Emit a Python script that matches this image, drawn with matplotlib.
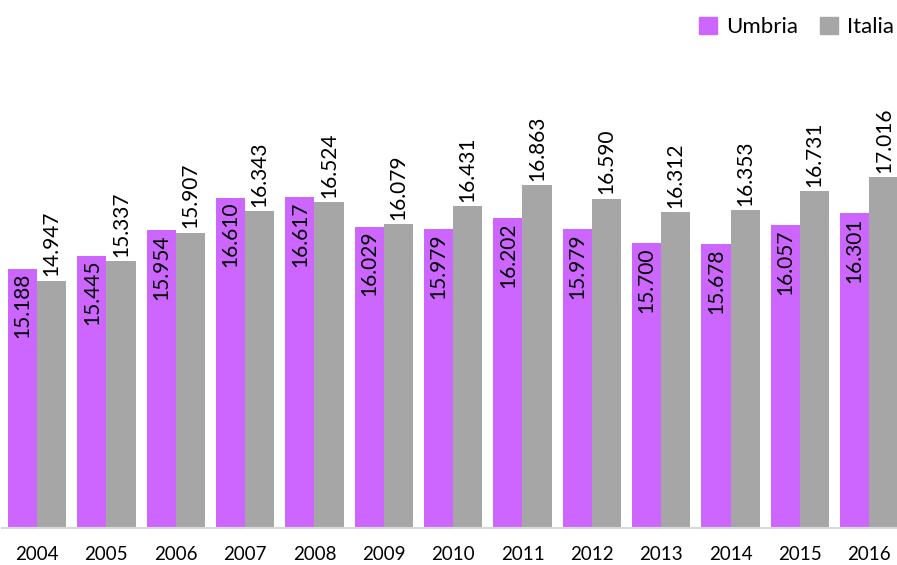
import numpy as np
import matplotlib.pyplot as plt
from matplotlib.patches import Patch

years = ["2004", "2005", "2006", "2007", "2008", "2009", "2010",
         "2011", "2012", "2013", "2014", "2015", "2016"]
umbria = [15188, 15445, 15954, 16610, 16617, 16029, 15979,
          16202, 15979, 15700, 15678, 16057, 16301]
italia = [14947, 15337, 15907, 16343, 16524, 16079, 16431,
          16863, 16590, 16312, 16353, 16731, 17016]

C_UMB = "#CC66FF"
C_ITA = "#A6A6A6"


def fmt(v):
    return f"{v:,}".replace(",", ".")


plt.rcParams["font.family"] = ["Lato", "DejaVu Sans"]

fig = plt.figure(figsize=(8.97, 5.65), dpi=100)
ax = fig.add_axes([2 / 897, 37 / 565, 895 / 897, 500 / 565])

x = np.arange(len(years))
w = 0.42
b1 = ax.bar(x - w / 2, umbria, w, color=C_UMB, label="Umbria")
b2 = ax.bar(x + w / 2, italia, w, color=C_ITA, label="Italia")

# value labels: inside the Umbria bars, above the Italia bars
for rect, v in zip(b1, umbria):
    ax.annotate(fmt(v), (rect.get_x() + rect.get_width() / 2, v),
                xytext=(0, -3), textcoords="offset points",
                rotation=90, ha="center", va="top", fontsize=15)
for rect, v in zip(b2, italia):
    ax.annotate(fmt(v), (rect.get_x() + rect.get_width() / 2, v),
                xytext=(0, 3), textcoords="offset points",
                rotation=90, ha="center", va="bottom", fontsize=15)

ax.set_xlim(-0.505, 12.4)
ax.set_ylim(10000, 20000)
ax.set_xticks(x)
ax.set_xticklabels(years, fontsize=13.5)
ax.tick_params(axis="x", length=0, pad=13)
ax.set_yticks([])
for s in ["top", "right", "left"]:
    ax.spines[s].set_visible(False)
ax.spines["bottom"].set_color("#D9D9D9")
ax.spines["bottom"].set_linewidth(1.5)

handles = [Patch(color=C_UMB, label="Umbria"), Patch(color=C_ITA, label="Italia")]
fig.legend(handles=handles, loc="upper right", bbox_to_anchor=(1.005, 0.984),
           ncol=2, frameon=False, fontsize=16, handlelength=0.8,
           handleheight=0.8, handletextpad=0.4, columnspacing=1.0,
           borderaxespad=0.1, borderpad=0.25)

fig.savefig("out.png", dpi=100)
